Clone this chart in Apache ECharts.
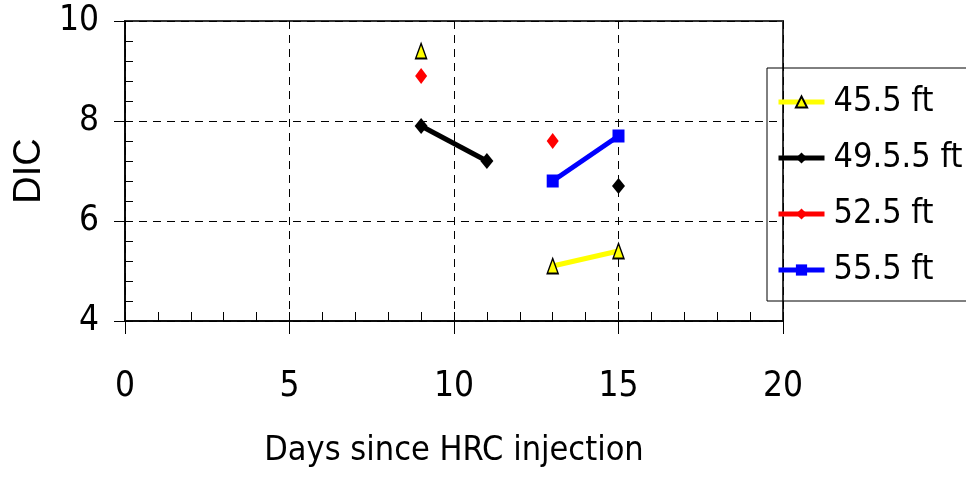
<!DOCTYPE html>
<html>
<head>
<meta charset="utf-8">
<script src="https://cdn.jsdelivr.net/npm/echarts@6/dist/echarts.min.js"></script>
<style>
  html, body { margin: 0; padding: 0; background: #fff; }
  #chart { width: 966px; height: 485px; }
</style>
</head>
<body>
<div id="chart"></div>
<script>
// Sampling days and DIC readings per depth (null = no sample)
const days = [9, 11, 13, 15];
const dic455 = [9.4, null, 5.1, 5.4];
const dic4955 = [7.9, 7.2, null, 6.7];
const dic525 = [8.9, null, 7.6, null];
const dic555 = [null, null, 6.8, 7.7];

const seriesNames = ['45.5 ft', '49.5.5 ft', '52.5 ft', '55.5 ft'];
const xTicks = [0, 5, 10, 15, 20];
const yTicks = [4, 6, 8, 10];

const FONT = '"DejaVu Sans Condensed", sans-serif';

function pairs(ys) {
  return days.map((d, i) => [d, ys[i] === null ? '-' : ys[i]]);
}

const chart = echarts.init(document.getElementById('chart'), null, { renderer: 'canvas' });

const option = {
  animation: false,
  backgroundColor: '#ffffff',
  grid: {
    left: 125, right: 183, top: 21, bottom: 164,
    show: true, borderColor: '#333', borderWidth: 2, backgroundColor: 'transparent'
  },
  legend: {
    orient: 'vertical',
    left: 767, top: 68,
    padding: [14, 4, 11, 9],
    itemWidth: 46, itemHeight: 14,
    itemGap: 16,
    borderColor: '#000', borderWidth: 1,
    lineStyle: { width: 5 },
    textStyle: { fontFamily: FONT, fontSize: 34, color: '#000', lineHeight: 40, padding: [0, 0, 0, 4] },
    data: seriesNames
  },
  xAxis: [
    {
      type: 'value', min: xTicks[0], max: xTicks[xTicks.length - 1], interval: 5,
      position: 'bottom',
      name: 'Days since HRC injection', nameLocation: 'middle', nameGap: 113,
      nameTextStyle: { fontFamily: FONT, fontSize: 34, color: '#000' },
      axisLine: { show: true, onZero: false, lineStyle: { color: '#000', width: 1.5 } },
      axisTick: { show: true, inside: false, length: 13, lineStyle: { color: '#000', width: 1 } },
      axisLabel: { fontFamily: FONT, fontSize: 35, color: '#000', margin: 48 },
      splitLine: { show: true, lineStyle: { color: '#000', width: 1, type: [8, 6] } }
    },
    {
      type: 'value', min: 0, max: 20, interval: 1, position: 'bottom',
      axisLine: { show: false },
      axisTick: { show: true, inside: true, length: 9, lineStyle: { color: '#000', width: 1 } },
      axisLabel: { show: false },
      splitLine: { show: false }
    }
  ],
  yAxis: [
    {
      type: 'value', min: yTicks[0], max: yTicks[yTicks.length - 1], interval: 2,
      position: 'left',
      name: 'DIC', nameLocation: 'middle', nameGap: 75, nameRotate: 90,
      nameTextStyle: { fontFamily: '"Liberation Sans", Arial, sans-serif', fontSize: 38, color: '#000' },
      axisLine: { show: true, onZero: false, lineStyle: { color: '#000', width: 1.5 } },
      axisTick: { show: true, inside: false, length: 11, lineStyle: { color: '#000', width: 1 } },
      axisLabel: { fontFamily: FONT, fontSize: 35, color: '#000', margin: 26 },
      splitLine: { show: true, lineStyle: { color: '#000', width: 1, type: [8, 6] } }
    },
    {
      type: 'value', min: 4, max: 10, interval: 0.4, position: 'left',
      axisLine: { show: false },
      axisTick: { show: true, inside: true, length: 8, lineStyle: { color: '#000', width: 1 } },
      axisLabel: { show: false },
      splitLine: { show: false }
    }
  ],
  series: [
    {
      name: seriesNames[0], type: 'line', data: pairs(dic455),
      symbol: 'triangle', symbolSize: [11, 15], showAllSymbol: true,
      lineStyle: { color: '#ffff00', width: 5 },
      itemStyle: { color: '#ffff00', borderColor: '#000', borderWidth: 1.5 },
      emphasis: { disabled: true }
    },
    {
      name: seriesNames[1], type: 'line', data: pairs(dic4955),
      symbol: 'diamond', symbolSize: [13, 16], showAllSymbol: true,
      lineStyle: { color: '#000000', width: 5 },
      itemStyle: { color: '#000000' },
      emphasis: { disabled: true }
    },
    {
      name: seriesNames[2], type: 'line', data: pairs(dic525),
      symbol: 'diamond', symbolSize: [12, 16], showAllSymbol: true,
      lineStyle: { color: '#ff0000', width: 5 },
      itemStyle: { color: '#ff0000' },
      emphasis: { disabled: true }
    },
    {
      name: seriesNames[3], type: 'line', data: pairs(dic555),
      symbol: 'rect', symbolSize: [12, 13], showAllSymbol: true,
      lineStyle: { color: '#0000ff', width: 5 },
      itemStyle: { color: '#0000ff' },
      emphasis: { disabled: true }
    }
  ]
};

chart.setOption(option);
</script>
</body>
</html>
